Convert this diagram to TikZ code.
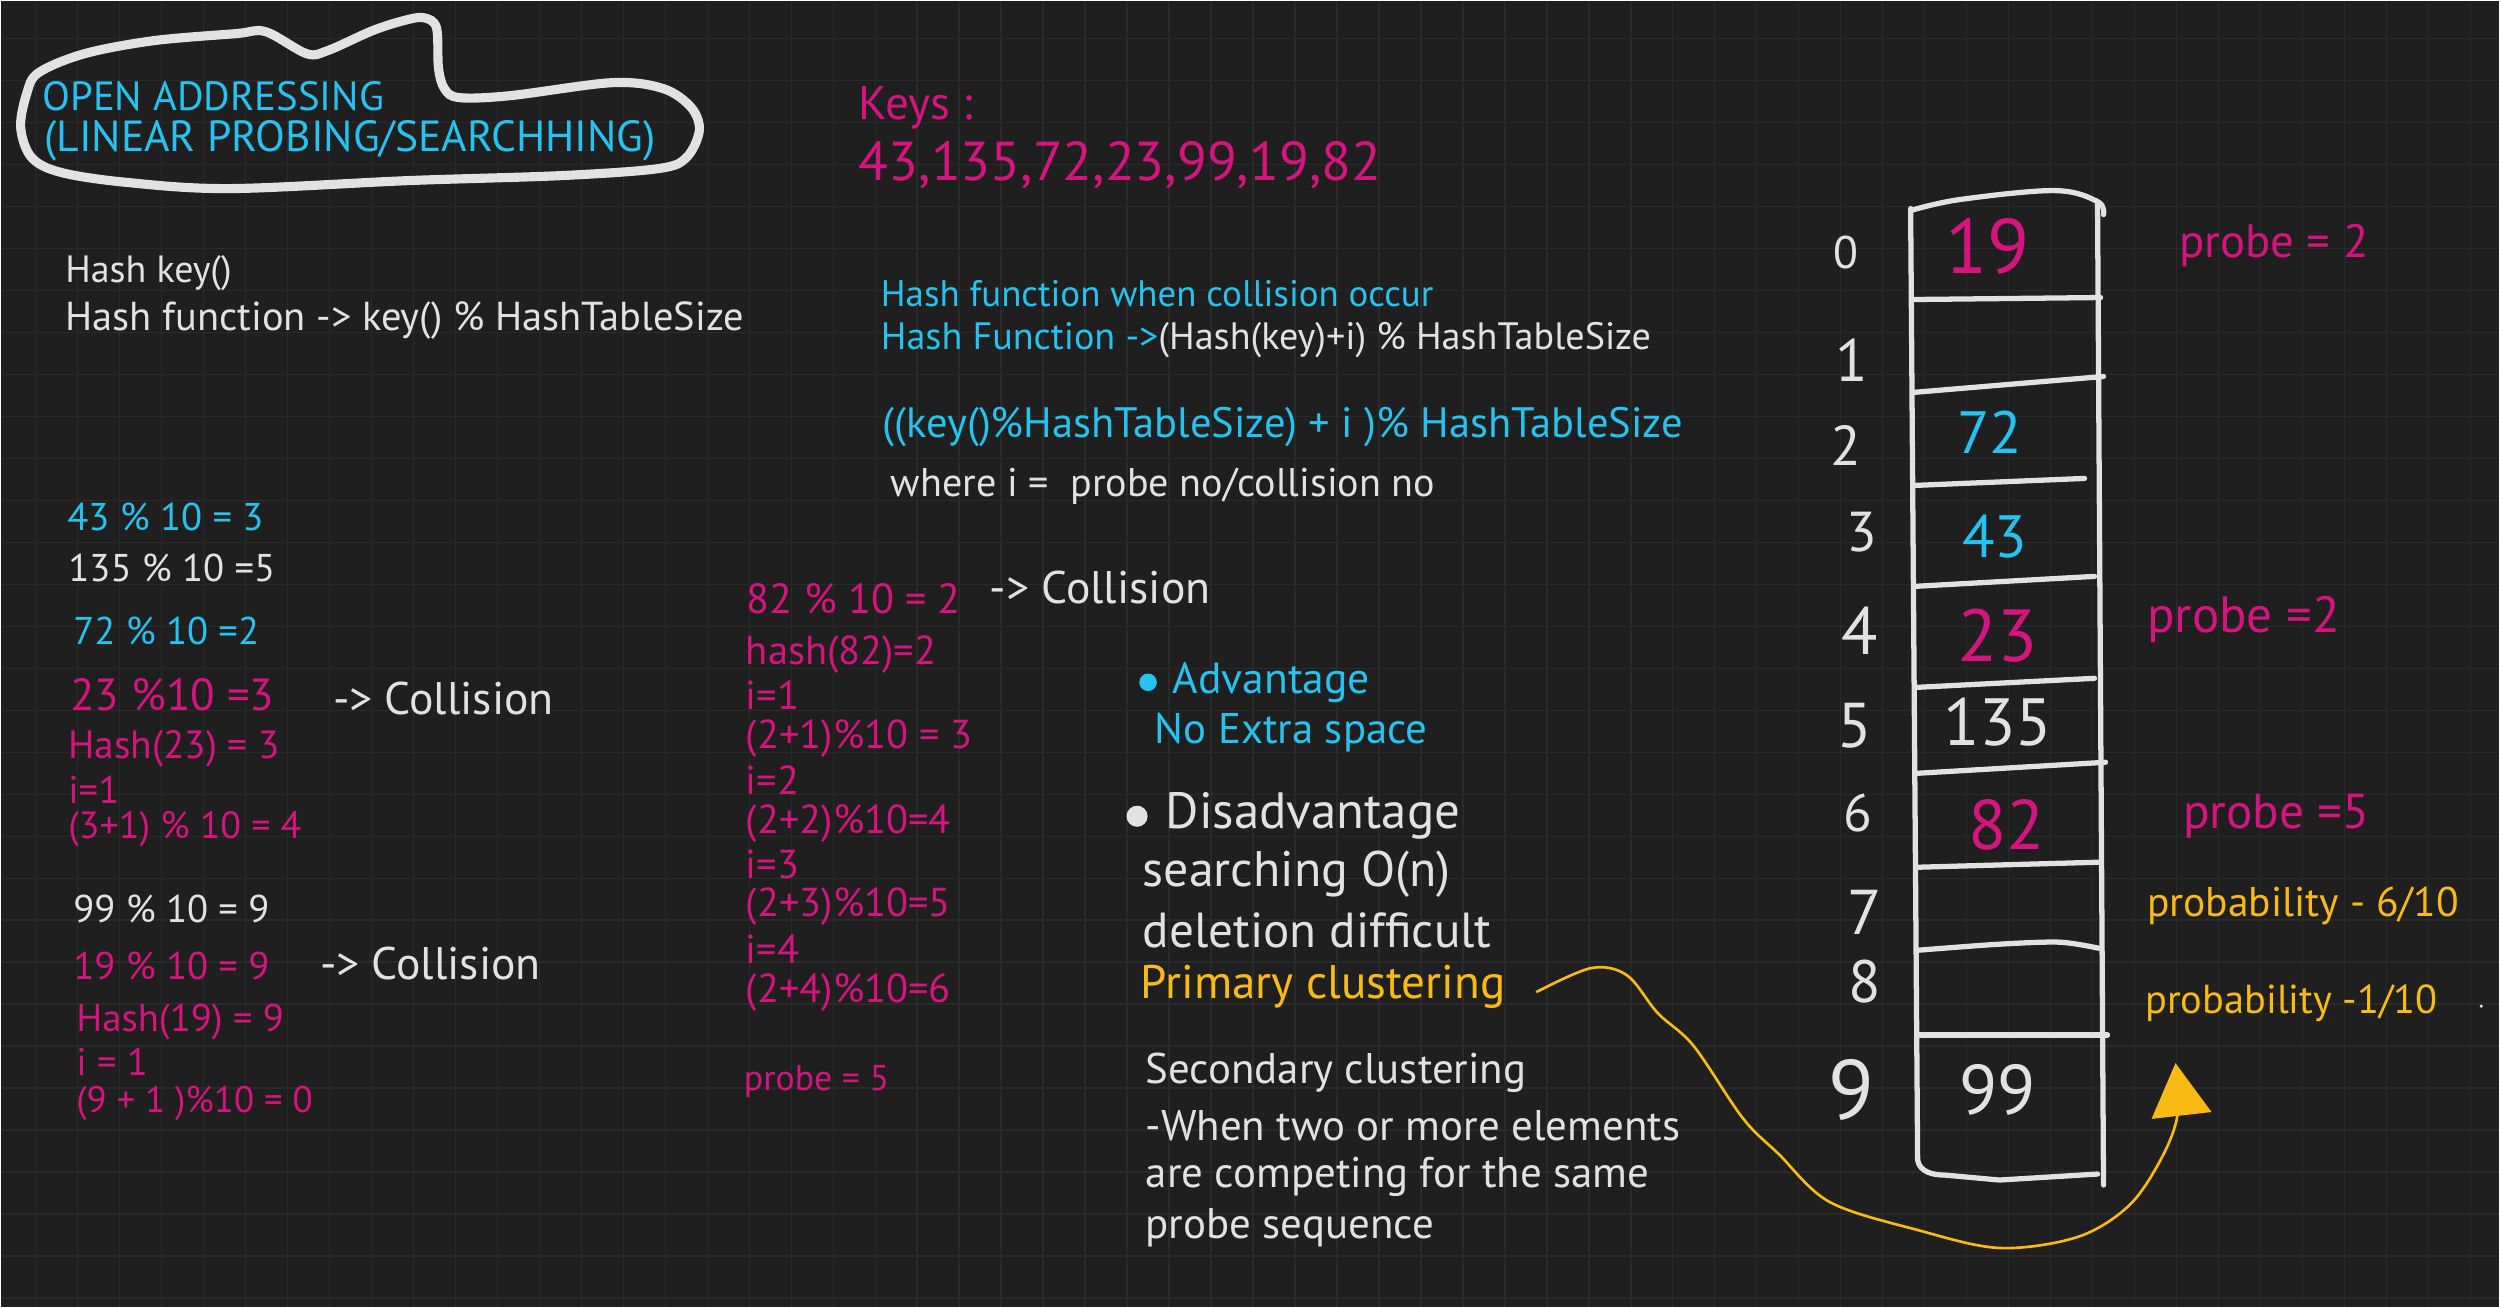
\documentclass[tikz,border=0pt]{standalone}
\usepackage{fontspec}
\setmainfont{PT Sans}
\definecolor{boardbg}{RGB}{31,31,31}
\definecolor{boardgrid}{RGB}{42,42,42}
\definecolor{inkwhite}{RGB}{226,226,226}
\definecolor{inkblue}{RGB}{38,194,240}
\definecolor{inkpink}{RGB}{214,20,128}
\definecolor{inkyellow}{RGB}{250,186,20}
\usetikzlibrary{arrows.meta,positioning,calc}

\begin{document}
\begin{tikzpicture}[x=0.01cm,y=-0.01cm,
  txt/.style={anchor=west,inner sep=0pt,text=inkwhite},
  fs/.style={font=\fontsize{#1}{#1}\selectfont},
  tbl/.style={inkwhite,line width=1.5pt,line cap=round},
  idx/.style={inner sep=0pt,text=inkwhite},
  cell/.style={inner sep=0pt,text=inkwhite}]
  \fill[boardbg] (0,0) rectangle (2500,1307);
  \foreach \gx in {35,77,...,2500} \draw[boardgrid,line width=0.4pt] (\gx,0) -- (\gx,1307);
  \foreach \gy in {38,80,...,1307} \draw[boardgrid,line width=0.4pt] (0,\gy) -- (2500,\gy);

  \draw[inkwhite,line width=2.6pt] plot[smooth cycle,tension=0.55] coordinates {(38,72) (84,53) (153,40) (235,33) (265,31) (306,53) (327,50) (372,30) (403,20) (423,17) (436,27) (438,67) (444,88) (459,97) (510,95) (612,82) (663,88) (691,107) (699,130) (686,157) (658,168) (561,175) (408,180) (230,188) (128,182) (61,172) (31,157) (20,127) (26,93)};
  \node[txt,fs=11.6pt,text=inkblue] (ttl1) at (41,96) {OPEN ADDRESSING};
  \node[txt,fs=12.4pt,text=inkblue] (ttl2) at (43,140) {(LINEAR PROBING/SEARCHHING)};

  \node[txt,fs=10.8pt] (hkey) at (64,273) {Hash key()};
  \node[txt,fs=11.5pt] (hfun) at (64,320) {Hash function -> key() \% HashTableSize};

  \node[txt,fs=11pt,text=inkblue] (m43) at (66,517) {43 \% 10 = 3};
  \node[txt,fs=11pt] (m135) at (67,568) {135 \% 10 =5};
  \node[txt,fs=11pt,text=inkblue] (m72) at (72,631) {72 \% 10 =2};
  \node[txt,fs=12.8pt,text=inkpink] (m23) at (69,694) {23 \%10 =3};
  \node[txt,fs=13pt] (col1) at (332,698) {-> Collision};
  \node[txt,fs=11.2pt,text=inkpink] (h23) at (67,749) {Hash(23) = 3};
  \node[txt,fs=11pt,text=inkpink] (i23) at (67,789) {i=1};
  \node[txt,fs=10.8pt,text=inkpink] (p23) at (67,829) {(3+1) \% 10 = 4};
  \node[txt,fs=11pt] (m99) at (72,909) {99 \% 10 = 9};
  \node[txt,fs=11pt,text=inkpink] (m19) at (72,966) {19 \% 10 = 9};
  \node[txt,fs=13pt] (col2) at (319,963) {-> Collision};
  \node[txt,fs=11pt,text=inkpink] (h19) at (75,1022) {Hash(19) = 9};
  \node[txt,fs=11pt,text=inkpink] (i19) at (75,1062) {i = 1};
  \node[txt,fs=10.5pt,text=inkpink] (p19) at (75,1103) {(9 + 1 )\%10 = 0};

  \node[txt,fs=13.4pt,text=inkpink] (keys) at (858,107) {Keys :};
  \node[txt,fs=15.6pt,text=inkpink] (klist) at (858,164) {43,135,72,23,99,19,82};
  \node[txt,fs=10.5pt,text=inkblue] (hcol) at (880,293) {Hash function when collision occur};
  \node[txt,fs=10.85pt] (hfun2) at (880,340) {\textcolor{inkblue}{Hash Function ->}(Hash(key)+i) \% HashTableSize};
  \node[txt,fs=12.1pt,text=inkblue] (hfun3) at (882,427) {((key()\%HashTableSize) + i )\% HashTableSize};
  \node[txt,fs=11.4pt] (where) at (890,486) {where i =\ \ probe no/collision no};

  \node[txt,fs=12pt,text=inkpink] (m82) at (746,598) {82 \% 10 = 2};
  \node[txt,fs=13pt] (col3) at (989,587) {-> Collision};
  \node[txt,fs=11.5pt,text=inkpink] (h82) at (745,654) {hash(82)=2};
  \node[txt,fs=11.5pt,text=inkpink] (i1) at (745,695) {i=1};
  \node[txt,fs=11.5pt,text=inkpink] (s1) at (745,738) {(2+1)\%10 = 3};
  \node[txt,fs=11.5pt,text=inkpink] (i2) at (745,780) {i=2};
  \node[txt,fs=11.5pt,text=inkpink] (s2) at (745,823) {(2+2)\%10=4};
  \node[txt,fs=11.5pt,text=inkpink] (i3) at (745,864) {i=3};
  \node[txt,fs=11.5pt,text=inkpink] (s3) at (745,906) {(2+3)\%10=5};
  \node[txt,fs=11.5pt,text=inkpink] (i4) at (745,949) {i=4};
  \node[txt,fs=11.5pt,text=inkpink] (s4) at (745,992) {(2+4)\%10=6};
  \node[txt,fs=10.2pt,text=inkpink] (pr5) at (743,1081) {probe = 5};

  \node[circle,fill=inkblue,inner sep=0pt,minimum size=5pt] (bul1) at (1148,682) {};
  \node[txt,fs=12.4pt,text=inkblue] (adv) at (1172,682) {Advantage};
  \node[txt,fs=12.2pt,text=inkblue] (noex) at (1154,732) {No Extra space};
  \node[circle,fill=inkwhite,inner sep=0pt,minimum size=6pt] (bul2) at (1137,816) {};
  \node[txt,fs=14.5pt] (dis) at (1165,816) {Disadvantage};
  \node[txt,fs=14.2pt] (srch) at (1142,874) {searching O(n)};
  \node[txt,fs=14pt] (del) at (1142,930) {deletion difficult};
  \node[txt,fs=13.4pt,text=inkyellow] (prim) at (1140,987) {Primary clustering};
  \node[txt,fs=12.2pt] (sec1) at (1145,1073) {Secondary clustering};
  \node[txt,fs=12.2pt] (sec2) at (1145,1126) {-When two or more elements};
  \node[txt,fs=12.2pt] (sec3) at (1145,1177) {are competing for the same};
  \node[txt,fs=12.2pt] (sec4) at (1145,1228) {probe sequence};

  \draw[tbl] plot[smooth,tension=0.6] coordinates {(1911,210) (1960,199) (2055,190) (2098,201) (2104,214)};
  \draw[tbl] (1911,208) -- (1918,1160) to[out=-80,in=180] (1945,1175) -- (2000,1180) -- (2098,1174);
  \draw[tbl] (2098,203) -- (2104,1185);
  \draw[tbl] (1913,299) -- (2101,297);
  \draw[tbl] (1913,392) -- (2104,376);
  \draw[tbl] (1915,485) -- (2085,478);
  \draw[tbl] (1915,586) -- (2095,576);
  \draw[tbl] (1918,687) -- (2095,678);
  \draw[tbl] (1918,773) -- (2106,762);
  \draw[tbl] (1919,867) -- (2099,862);
  \draw[tbl] plot[smooth] coordinates {(1919,950) (2000,944) (2060,942) (2099,948)};
  \draw[tbl] (1920,1035) -- (2108,1035);

  \node[idx,fs=13pt] (n0) at (1846,252) {0};
  \node[idx,fs=17pt] (n1) at (1852,360) {1};
  \node[idx,fs=16pt] (n2) at (1846,445) {2};
  \node[idx,fs=16pt] (n3) at (1862,532) {3};
  \node[idx,fs=19pt] (n4) at (1860,630) {4};
  \node[idx,fs=18pt] (n5) at (1855,725) {5};
  \node[idx,fs=15pt] (n6) at (1858,813) {6};
  \node[idx,fs=18pt] (n7) at (1865,912) {7};
  \node[idx,fs=17pt] (n8) at (1865,981) {8};
  \node[idx,fs=24pt] (n9) at (1852,1090) {9};

  \node[cell,fs=22pt,text=inkpink] (c0) at (1988,246) {19};
  \node[cell,fs=17pt,text=inkblue] (c2) at (1990,432) {72};
  \node[cell,fs=17pt,text=inkblue] (c3) at (1995,536) {43};
  \node[cell,fs=21pt,text=inkpink] (c4) at (1998,635) {23};
  \node[cell,fs=19pt] (c5) at (1998,722) {135};
  \node[cell,fs=20pt,text=inkpink] (c6) at (2007,825) {82};
  \node[cell,fs=20pt] (c9) at (1998,1090) {99};

  \node[txt,fs=13.3pt,text=inkpink] (pb0) at (2179,245) {probe = 2};
  \node[txt,fs=14.5pt,text=inkpink] (pb4) at (2147,619) {probe =2};
  \node[txt,fs=14pt,text=inkpink] (pb6) at (2183,816) {probe =5};
  \node[txt,fs=11.8pt,text=inkyellow] (pbl7) at (2147,906) {probability - 6/10};
  \node[txt,fs=11.5pt,text=inkyellow] (pbl8) at (2145,1003) {probability -1/10};
  \node[circle,fill=inkwhite,inner sep=0pt,minimum size=1pt] (dot) at (2482,1006) {};

  \coordinate (tip) at (2176,1063);
  \draw[inkyellow,line width=0.75pt,-{Triangle[length=15pt,width=17pt]}] plot[smooth,tension=0.55] coordinates {([xshift=0.3cm,yshift=-0.05cm]prim.east) (1591,968) (1627,975) (1658,1013) (1694,1046) (1743,1118) (1779,1154) (1830,1202) (1918,1230) (2000,1248) (2078,1237) (2129,1206) (2161,1160) (2178,1115) (tip)};
\end{tikzpicture}
\end{document}
